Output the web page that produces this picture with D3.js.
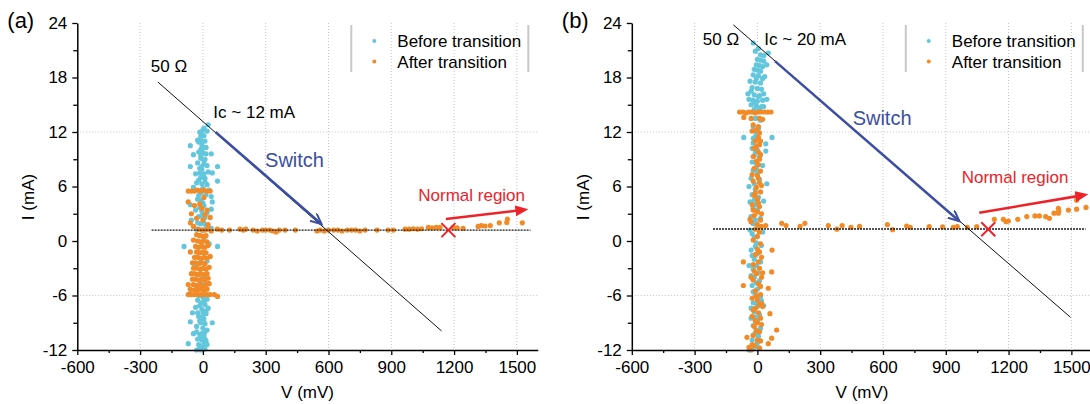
<!DOCTYPE html>
<html>
<head>
<meta charset="utf-8">
<script src="https://cdnjs.cloudflare.com/ajax/libs/d3/7.8.5/d3.min.js"></script>
<style>
body{margin:0;background:#fff;}
svg{display:block;font-family:"Liberation Sans",Arial,sans-serif;}
</style>
</head>
<body>
<svg id="chart" width="1090" height="404"></svg>
<script>
var xTicks = [-600,-300,0,300,600,900,1200,1500];
var xMinor = [-450,-150,150,450,750,1050,1350];
var yTicks = [-12,-6,0,6,12,18,24];
var yMinor = [-9,-3,3,9,15,21];
var yGrid = [12,-6];

// panel (a) : Ic ~ 12 mA
var beforeA = [[0,12.2],[-15,12.0],[20,12.1],[25,12.8],[-10,11.5],[5,11.6],[-25,11.1],[10,11.0],
  [-60,10.5],[-5,10.6],[15,10.3],[-20,9.8],[0,9.7],[15,9.6],[-45,9.5],[40,9.6],[-10,9.1],[10,9.0],
  [-25,8.6],[5,8.5],[-60,8.2],[20,8.3],[70,8.2],[-5,7.9],[-35,7.4],[-15,7.5],[5,7.4],[25,7.6],[45,7.5],
  [-10,7.0],[10,6.9],[70,6.6],[-30,6.4],[-5,6.3],[20,6.2],[-45,5.9],[0,5.8],[30,5.6],[-20,5.0],[40,4.9],
  [-10,4.5],[45,4.3],[-60,4.0],[5,3.9],[-35,3.4],[-5,3.3],[40,3.5],[-20,2.7],[10,2.6],[-55,2.3],
  [-10,1.9],[15,1.7],[-30,1.3],[0,1.2],[40,1.4],[-15,0.6],[10,0.5],[-90,-0.6],[-5,-0.5],[70,-0.6],[30,-0.3],
  [-25,-1.2],[5,-1.3],[-10,-2.0],[20,-2.2],[-40,-2.8],[0,-3.0],[-15,-3.7],[15,-3.9],[-5,-4.5],[25,-4.7],
  [-30,-5.2],[5,-5.4],[-60,-5.8],[-20,-6.0],[0,-6.2],[20,-6.4],[-10,-6.8],[10,-7.0],[-35,-7.3],[-5,-7.5],
  [25,-7.4],[-50,-7.9],[15,-8.0],[-20,-8.3],[0,-8.4],[-60,-8.9],[-10,-9.0],[10,-9.1],[45,-9.0],[-30,-9.4],
  [0,-9.6],[20,-9.8],[-45,-10.2],[-15,-10.3],[5,-10.4],[-5,-10.9],[15,-11.0],[-70,-11.3],[-20,-11.4],
  [0,-11.6],[-10,-12.0],[10,-11.9],[-5,11.0],[-5,8.2],[-10,5.3],[-10,10.1],[0,-7.9],[-10,-10.6],[5,-11.3],
  [-10,11.9],[5,12.4],[-20,10.9],[0,10.2],[-10,9.4],[5,8.9],[-15,8.0],[0,7.2],[-20,6.7],[10,6.5],[-5,5.6],
  [15,5.1],[-25,4.6],[0,4.2],[-15,3.7],[20,3.1],[-5,2.8],[-25,2.0],[5,2.0],[-25,-6.5],[5,-6.7],[-15,-7.1],
  [15,-7.7],[-25,-7.9],[5,-8.6],[-15,-8.8],[-30,-10.0],[10,-10.0],[-5,-10.2],[-25,-10.8],[10,-10.8],
  [-15,-11.8],[20,-11.4],[-30,-12.0]];
var afterA = [[-70,5.5],[-55,5.5],[-40,5.5],[-25,5.6],[-10,5.5],[5,5.6],[20,5.5],[35,5.5],
  [-70,4.3],[-40,3.9],[-15,4.1],[5,4.8],[-55,3.0],[-5,3.6],[20,3.4],[10,2.9],[-30,2.5],[0,2.3],[-60,2.0],
  [-45,1.6],[25,1.8],[35,2.6],[-20,1.3],[-5,1.2],[10,1.2],[25,1.3],[40,1.1],[-30,0.7],[-15,0.6],[0,0.5],
  [15,0.6],[-45,0.1],[-25,0.0],[-10,-0.1],[5,0.0],[20,-0.1],[-35,-0.6],[-20,-0.7],[-5,-0.6],[10,-0.7],
  [25,-0.5],[-60,-1.2],[-30,-1.2],[-15,-1.3],[0,-1.2],[15,-1.3],[-40,-1.8],[-25,-1.8],[-10,-1.9],[5,-1.8],
  [20,-1.9],[35,-1.7],[-50,-2.4],[-35,-2.4],[-20,-2.5],[-5,-2.4],[10,-2.5],[-45,-3.0],[-30,-3.0],[-15,-3.1],
  [0,-3.0],[15,-3.1],[30,-2.9],[-55,-3.6],[-40,-3.6],[-25,-3.7],[-10,-3.6],[5,-3.7],[20,-3.6],[-50,-4.2],
  [-35,-4.2],[-20,-4.3],[-5,-4.2],[10,-4.3],[25,-4.1],[-70,-4.8],[-45,-4.8],[-30,-4.9],[-15,-4.8],[0,-4.9],
  [15,-4.8],[30,-4.7],[-60,-5.3],[-40,-5.4],[-25,-5.4],[-10,-5.3],[5,-5.4],[20,-5.3],[-70,-5.9],[-55,-5.9],
  [-40,-5.9],[-25,-5.9],[-10,-5.9],[5,-5.9],[20,-5.9],[35,-5.9],[55,-5.9],[70,-6.1],
  [69,1.3],[90,1.2],[127,1.2],[177,1.3],[193,1.2],[205,1.3],[240,1.2],[260,1.1],[285,1.2],[300,1.2],
  [320,1.2],[335,1.1],[350,1.0],[365,1.2],[393,1.2],[442,1.2],[545,1.1],[560,1.2],[580,1.1],[600,1.2],
  [625,1.2],[645,1.2],[665,1.1],[690,1.2],[710,1.2],[730,1.2],[750,1.1],[775,1.2],[832,1.2],[885,1.2],
  [910,1.2],[966,1.3],[985,1.3],[1005,1.35],[1025,1.3],[1045,1.35],[1077,1.5],[1095,1.45],[1115,1.5],
  [1133,1.5],[1195,1.5],[1215,1.45],[1243,1.4],[1315,1.6],[1330,1.7],[1348,1.65],[1373,1.7],[1416,2.0],
  [1452,2.05],[1455,2.4],[1526,2.0]];

// panel (b) : Ic ~ 20 mA
var beforeB = [[-20,21.8],[52,20.7],[15,20.5],[30,20.4],[0,20.0],[15,19.9],[30,19.8],[-5,19.4],[10,19.3],
  [25,19.2],[45,19.4],[-15,18.9],[0,18.8],[15,18.7],[-20,18.3],[5,18.2],[35,18.1],[-35,17.6],[-10,17.5],
  [15,17.4],[-25,16.9],[0,16.8],[20,16.7],[-45,16.2],[-15,16.1],[10,16.0],[30,16.2],[-40,15.6],[-20,15.5],
  [0,15.4],[25,15.5],[45,15.6],[-30,15.0],[-5,14.9],[20,14.8],[-15,14.5],[10,14.5],[-10,13.5],[15,13.3],
  [-20,12.6],[5,12.4],[-65,11.4],[-10,11.5],[70,11.4],[-20,10.8],[40,10.7],[-25,10.2],[0,10.0],[40,9.9],
  [-15,9.4],[10,9.2],[-25,8.7],[-5,8.5],[25,8.3],[-20,7.8],[0,7.5],[-30,6.9],[10,6.8],[45,6.3],[-40,6.0],
  [-10,5.7],[-25,5.1],[5,4.8],[-35,4.3],[-15,4.5],[30,4.4],[-20,3.6],[0,3.4],[-30,2.7],[15,2.5],[-20,1.9],
  [5,1.6],[-35,1.2],[25,1.0],[-15,0.4],[-5,-0.2],[20,-0.5],[-30,-1.0],[0,-1.4],[-15,-2.0],[15,-2.3],
  [-40,-2.7],[-20,-3.1],[5,-3.5],[-15,-4.0],[10,-4.4],[-25,-4.9],[0,-5.3],[-10,-5.8],[15,-6.1],[20,-6.6],
  [-20,-6.8],[0,-7.2],[30,-7.1],[-15,-7.8],[10,-8.1],[-30,-8.5],[0,-8.8],[-20,-9.3],[15,-9.6],[-10,-10.1],
  [5,-10.5],[-25,-10.9],[0,-11.2],[-15,-11.7],[10,-11.8],[-40,-12.0],
  [-10,20.9],[5,21.2],[-5,17.9],[25,17.9],[-30,16.5],[5,15.9],[-10,15.2],[30,14.8],[-5,11.9],[-20,11.3],
  [-10,9.8],[-5,8.0],[-15,6.3],[-5,4.0],[-10,2.3],[-25,0.8],[-10,-0.6],[-25,-1.6],[-5,-2.7],[-30,-3.8],
  [-5,-4.6],[-20,-5.6],[-5,-6.8],[-30,-7.4],[-10,-8.4],[-5,-9.8],[-20,-10.4],[-5,-11.6]];
var afterB = [[-85,14.2],[-70,14.2],[-55,14.1],[-40,14.2],[-25,14.2],[-10,14.1],[5,14.2],[20,14.2],[35,14.2],
  [50,14.2],[65,14.2],[-65,13.6],[-30,13.5],[10,13.5],[25,13.4],[-20,12.8],[5,12.6],[-25,12.1],[10,11.9],
  [5,11.4],[-10,11.0],[10,10.6],[-15,10.2],[5,9.8],[-20,9.3],[10,9.0],[5,8.4],[-15,8.0],[15,7.7],[0,7.2],
  [-20,6.6],[10,6.4],[-5,5.9],[15,5.4],[-15,5.0],[0,4.6],[-25,4.0],[10,3.8],[0,3.2],[-15,2.8],[15,2.3],
  [-30,2.1],[0,1.8],[-10,1.3],[10,1.0],[20,1.6],[40,1.7],[0,0.5],[-20,0.1],[15,-0.3],[0,-0.9],[70,-1.0],
  [-10,-1.5],[20,-1.8],[5,-2.3],[-67,-2.3],[-20,-2.6],[10,-3.0],[68,-3.4],[-5,-3.6],[20,-4.0],[-20,-4.3],
  [5,-4.7],[-67,-4.9],[52,-5.2],[-10,-5.5],[15,-5.9],[-25,-6.3],[0,-6.5],[20,-6.9],[-10,-7.4],[5,-7.9],
  [-25,-8.3],[15,-8.5],[0,-9.0],[-15,-9.4],[92,-9.8],[10,-10.0],[-20,-10.4],[68,-10.7],[0,-10.9],[52,-11.3],
  [-15,-11.5],[10,-11.8],[-30,-12.0],
  [-5,12.2],[15,11.0],[-5,10.4],[15,9.5],[-5,8.8],[-25,7.3],[5,6.9],[20,6.1],[-10,5.3],[5,4.2],[-20,3.4],
  [20,3.0],[-35,2.4],[10,-1.2],[-15,-3.3],[25,-3.5],[-30,-4.0],[15,-5.0],[-5,-6.1],[10,-7.0],[-20,-7.6],
  [25,-7.2],[-10,-8.8],[20,-9.2],[-5,-9.9],[15,-11.0],[-25,-11.4],[-40,-11.7],[-50,-10.6],[60,-8.0],
  [116,1.95],[137,1.7],[204,1.6],[227,1.95],[339,1.7],[380,1.3],[405,1.7],[447,1.5],[488,1.6],[621,1.8],
  [646,1.25],[713,1.65],[730,1.5],[821,1.58],[885,1.55],[936,1.5],[955,1.58],[1003,1.5],[1048,1.58],
  [1132,2.39],[1175,2.39],[1188,2.13],[1199,2.2],[1244,2.39],[1287,2.69],[1326,2.76],[1347,2.76],
  [1377,2.69],[1395,2.5],[1417,3.06],[1438,3.6],[1438,3.06],[1440,3.3],[1486,3.4],[1525,3.5],[1525,4.5],
  [1570,3.7]];

// annotations, in data units (mV, mA)
var line50A = [[-215,17.5],[1140,-9.9]];
var line50B = [[-115,23.8],[1496,-8.4]];
var levelA = [[-245,1.2],[1565,1.2]];
var levelB = [[-212,1.32],[1568,1.32]];
var switchA = [[60,12.0],[567,1.85]];
var switchB = [[84,19.8],[965,2.18]];
var normalA = [[1161,2.42],[1555,3.49]];
var normalB = [[1060,3.11],[1581,5.14]];
var crossA = [1173,1.2];
var crossB = [1103,1.3];

var blue = '#62c6dc', orange = '#f28a26', switchBlue = '#3b4ea3', red = '#ee2229';
var plotW = 460.5, plotH = 327;

var svg = d3.select('#chart');
var defs = svg.append('defs');
defs.append('marker').attr('id','headBlue')
    .attr('markerUnits','userSpaceOnUse').attr('markerWidth',14).attr('markerHeight',14)
    .attr('refX',11).attr('refY',5).attr('orient','auto')
    .append('path').attr('d','M0,0 L11,5 L0,10')
    .attr('fill','none').attr('stroke',switchBlue).attr('stroke-width',2);
defs.append('marker').attr('id','headRed')
    .attr('markerUnits','userSpaceOnUse').attr('markerWidth',14).attr('markerHeight',14)
    .attr('refX',13).attr('refY',5.5).attr('orient','auto')
    .append('path').attr('d','M0,0 L13,5.5 L0,11 Z').attr('fill',red);

function drawPanel(ox, p) {
    var g = svg.append('g').attr('transform','translate(' + ox + ',23)');
    var x = d3.scaleLinear().domain([-600,1600]).range([0, plotW]);
    var y = d3.scaleLinear().domain([-12,24]).range([plotH, 0]);

    // grid
    g.selectAll('.vgrid').data(xTicks.slice(1)).enter().append('line')
        .attr('x1', function(d){return x(d);}).attr('x2', function(d){return x(d);})
        .attr('y1', y(24)).attr('y2', y(-12))
        .attr('stroke','#c4c4c4').attr('stroke-width',1).attr('stroke-dasharray','1,2');
    g.selectAll('.hgrid').data(yGrid).enter().append('line')
        .attr('x1', 0).attr('x2', plotW)
        .attr('y1', function(d){return y(d);}).attr('y2', function(d){return y(d);})
        .attr('stroke','#c4c4c4').attr('stroke-width',1).attr('stroke-dasharray','1,2');

    // points
    g.append('g').selectAll('circle').data(p.before).enter().append('circle')
        .attr('cx', function(d){return x(d[0]);}).attr('cy', function(d){return y(d[1]);})
        .attr('r', 2.6).attr('fill', blue);
    g.append('g').selectAll('circle').data(p.after).enter().append('circle')
        .attr('cx', function(d){return x(d[0]);}).attr('cy', function(d){return y(d[1]);})
        .attr('r', 2.6).attr('fill', orange);

    var line = d3.line().x(function(d){return x(d[0]);}).y(function(d){return y(d[1]);});

    g.append('path').attr('d', line(p.level)).attr('fill','none')
        .attr('stroke','#1a1a1a').attr('stroke-width',1.3).attr('stroke-dasharray','2,1');
    g.append('path').attr('d', line(p.line50)).attr('fill','none')
        .attr('stroke','#111').attr('stroke-width',1);
    g.append('path').attr('d', line(p.sw)).attr('fill','none')
        .attr('stroke',switchBlue).attr('stroke-width',2.5).attr('marker-end','url(#headBlue)');

    // red arrow, shorten the shaft so the head gets the tip
    var a0 = [x(p.normal[0][0]), y(p.normal[0][1])], a1 = [x(p.normal[1][0]), y(p.normal[1][1])];
    var len = Math.hypot(a1[0]-a0[0], a1[1]-a0[1]);
    var k = (len - 8) / len;
    g.append('line').attr('x1',a0[0]).attr('y1',a0[1])
        .attr('x2',a0[0] + (a1[0]-a0[0])*k).attr('y2',a0[1] + (a1[1]-a0[1])*k)
        .attr('stroke',red).attr('stroke-width',2.6);
    g.append('line').attr('x1',a0[0]).attr('y1',a0[1]).attr('x2',a1[0]).attr('y2',a1[1])
        .attr('stroke','none').attr('marker-end','url(#headRed)');

    // red cross
    var cx = x(p.cross[0]), cy = y(p.cross[1]);
    g.append('path').attr('d','M'+(cx-7)+','+(cy-7)+'L'+(cx+7)+','+(cy+7)+'M'+(cx+7)+','+(cy-7)+'L'+(cx-7)+','+(cy+7))
        .attr('stroke',red).attr('stroke-width',2);

    // axes
    g.append('g').attr('transform','translate(0,' + plotH + ')')
        .call(d3.axisBottom(x).tickValues(xTicks).tickSizeInner(5).tickSizeOuter(0).tickPadding(6)
            .tickFormat(function(d){return String(d);}));
    g.append('g').attr('transform','translate(0,' + plotH + ')')
        .call(d3.axisBottom(x).tickValues(xMinor).tickSize(3).tickFormat(''))
        .select('.domain').remove();
    g.append('g')
        .call(d3.axisLeft(y).tickValues(yTicks).tickSizeInner(5).tickSizeOuter(0).tickPadding(5)
            .tickFormat(function(d){return String(d);}));
    g.append('g')
        .call(d3.axisLeft(y).tickValues(yMinor).tickSize(4).tickFormat(''))
        .select('.domain').remove();
    g.selectAll('.domain').attr('stroke','#000').attr('stroke-width',1.5);
    g.selectAll('.tick line').attr('stroke','#000').attr('stroke-width',1.3);
    g.selectAll('.tick text').attr('font-size',17).attr('font-family','"Liberation Sans",Arial,sans-serif').attr('fill','#000');

    g.append('text').attr('x', plotW/2).attr('y', 375).attr('text-anchor','middle')
        .attr('font-size',17).text('V (mV)');
    g.append('text').attr('transform','translate(-43,' + 174 + ') rotate(-90)').attr('text-anchor','middle')
        .attr('font-size',17).text('I (mA)');
    g.append('text').attr('x', -70).attr('y', 5).attr('font-size',22).text(p.label);

    // annotations
    g.append('text').attr('x', x(p.t50[0])).attr('y', y(p.t50[1])).attr('font-size',17).text('50 \u03A9');
    g.append('text').attr('x', x(p.tIc[0])).attr('y', y(p.tIc[1])).attr('font-size',17).text(p.ic);
    g.append('text').attr('x', x(p.tSw[0])).attr('y', y(p.tSw[1])).attr('font-size',20)
        .attr('fill',switchBlue).text('Switch');
    g.append('text').attr('x', x(p.tNr[0])).attr('y', y(p.tNr[1])).attr('font-size',17)
        .attr('fill',red).text('Normal region');

    // legend
    var lg = g.append('g');
    lg.append('line').attr('x1',274).attr('x2',274).attr('y1',2).attr('y2',49).attr('stroke','#c8c8c8').attr('stroke-width',2);
    lg.append('line').attr('x1',451).attr('x2',451).attr('y1',2).attr('y2',49).attr('stroke','#c8c8c8').attr('stroke-width',2);
    lg.append('circle').attr('cx',297).attr('cy',18).attr('r',2).attr('fill',blue);
    lg.append('circle').attr('cx',297).attr('cy',38.5).attr('r',2).attr('fill',orange);
    lg.append('text').attr('x',320).attr('y',24).attr('font-size',17).text('Before transition');
    lg.append('text').attr('x',320).attr('y',45).attr('font-size',17).text('After transition');
}

drawPanel(77.3, {label:'(a)', before:beforeA, after:afterA, line50:line50A, level:levelA, sw:switchA,
    normal:normalA, cross:crossA, ic:'Ic ~ 12 mA', t50:[-249,18.66], tIc:[50,13.54], tSw:[297,8.15], tNr:[1029,4.4]});
drawPanel(631.8, {label:'(b)', before:beforeB, after:afterB, line50:line50B, level:levelB, sw:switchB,
    normal:normalB, cross:crossB, ic:'Ic ~ 20 mA', t50:[-261,21.58], tIc:[33,21.58], tSw:[455,12.77], tNr:[976,6.38]});
</script>
</body>
</html>
